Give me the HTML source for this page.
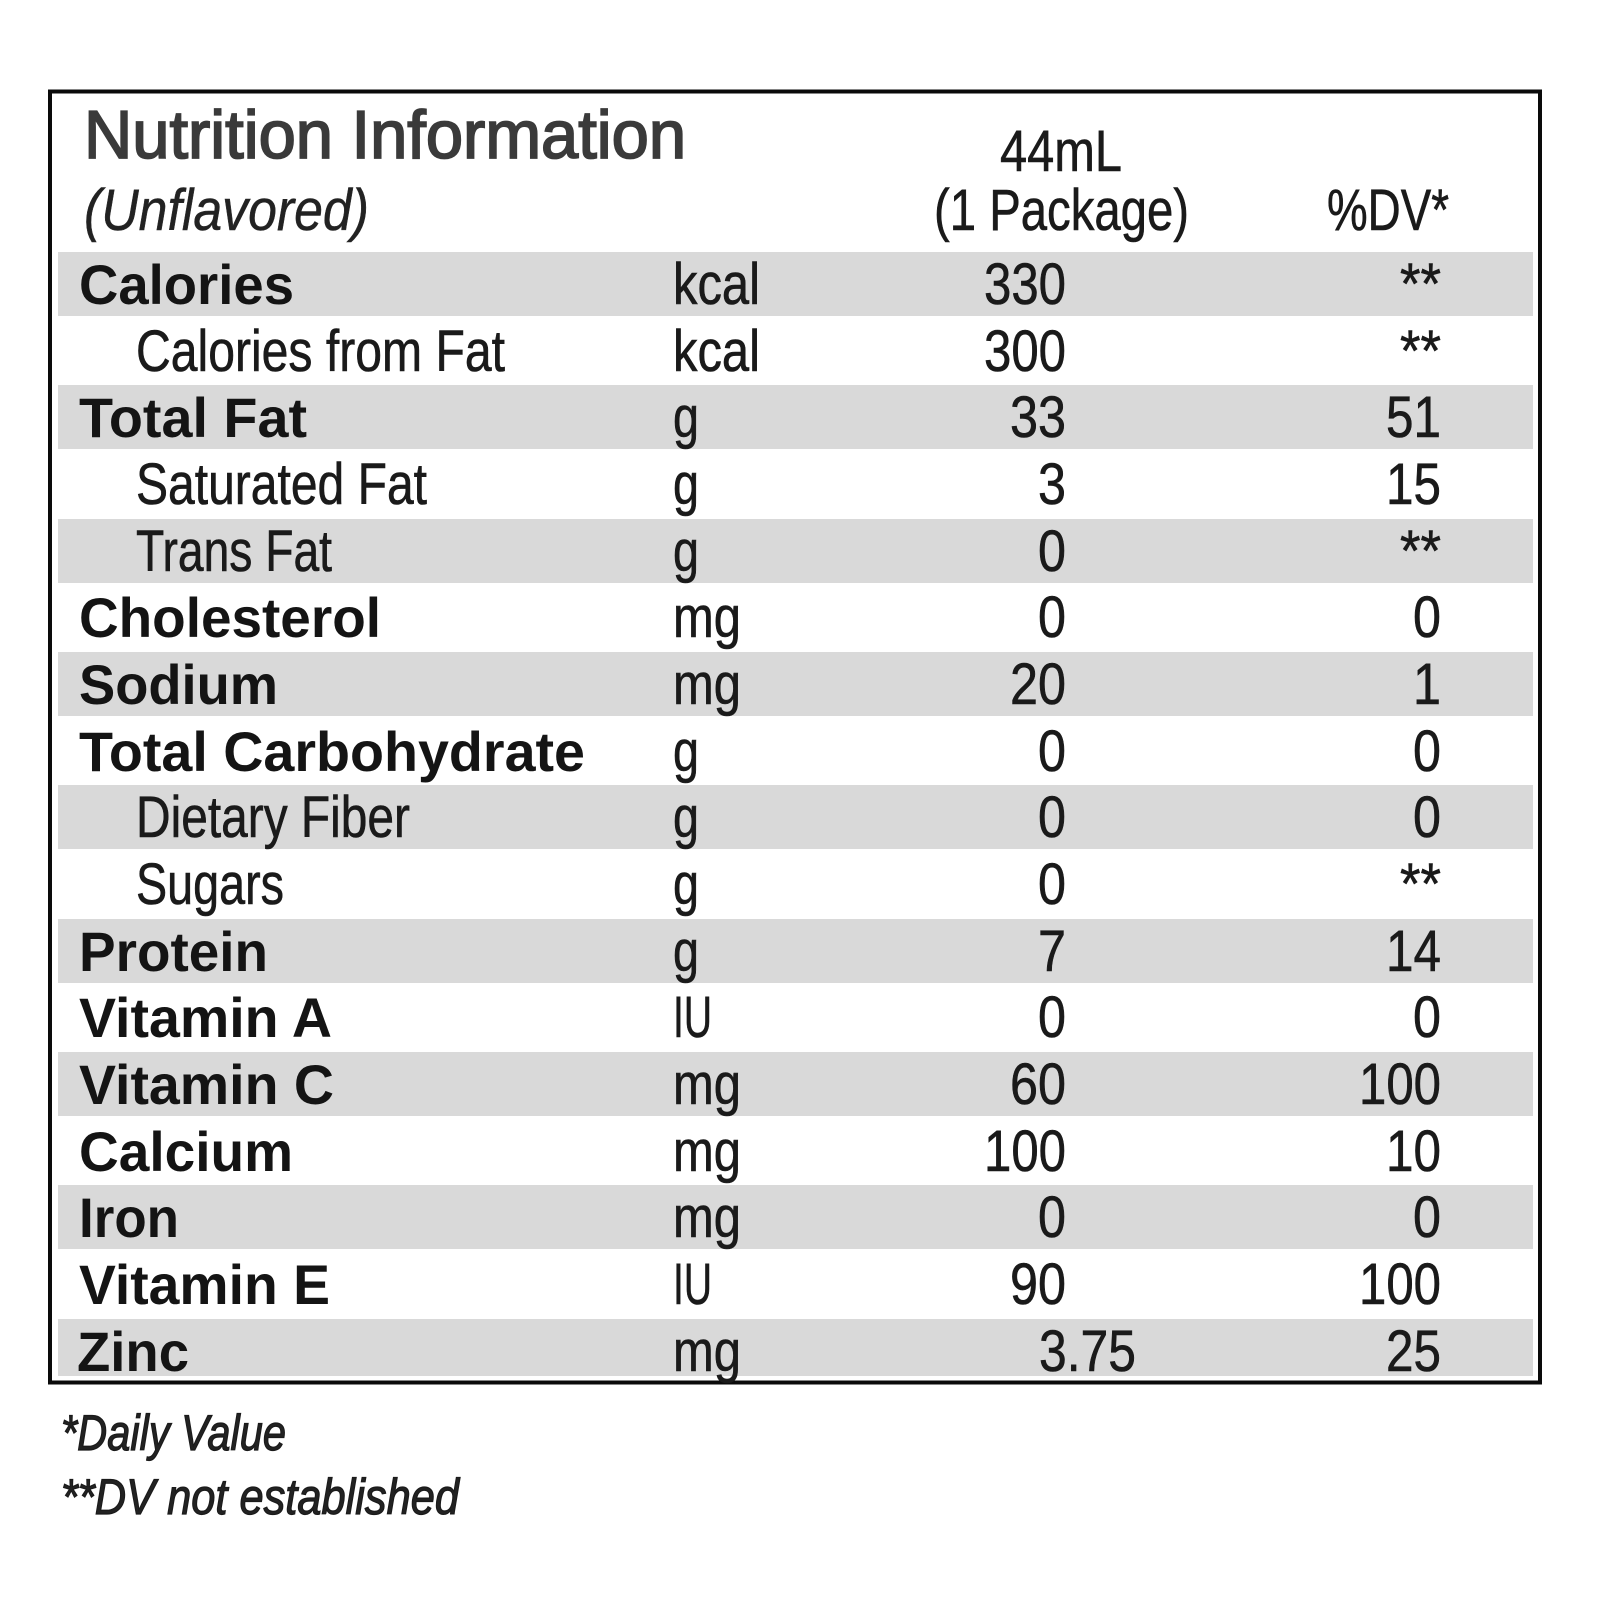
<!DOCTYPE html>
<html>
<head>
<meta charset="utf-8">
<style>
  html,body{margin:0;padding:0;background:#fff;}
  svg{display:block;}
  .t{font-family:"Liberation Sans",sans-serif;}
  .b{font-family:"Liberation Sans",sans-serif;font-weight:bold;font-size:56px;fill:#141414;}
  .r{font-family:"Liberation Sans",sans-serif;font-size:58px;fill:#1a1a1a;stroke:#1a1a1a;stroke-width:0.6;}
  .i{font-family:"Liberation Sans",sans-serif;font-style:italic;fill:#222;}
</style>
</head>
<body>
<svg width="1600" height="1600" viewBox="0 0 1600 1600" xmlns="http://www.w3.org/2000/svg">
  <rect x="0" y="0" width="1600" height="1600" fill="#ffffff"/>

  <!-- gray bands -->
  <g fill="#d9d9d9">
    <rect x="58" y="252" width="1475" height="64"/>
    <rect x="58" y="385" width="1475" height="64"/>
    <rect x="58" y="519" width="1475" height="64"/>
    <rect x="58" y="652" width="1475" height="64"/>
    <rect x="58" y="785" width="1475" height="64"/>
    <rect x="58" y="919" width="1475" height="64"/>
    <rect x="58" y="1052" width="1475" height="64"/>
    <rect x="58" y="1185" width="1475" height="64"/>
    <rect x="58" y="1319" width="1475" height="57"/>
  </g>

  <!-- border -->
  <rect x="50" y="91.5" width="1490" height="1291" fill="none" stroke="#0a0a0a" stroke-width="4"/>

  <!-- header -->
  <text class="t" x="84" y="158" font-size="68" fill="#3a3a3a" stroke="#3a3a3a" stroke-width="1.8" textLength="602" lengthAdjust="spacingAndGlyphs">Nutrition Information</text>
  <text class="i" x="84" y="230" font-size="58" fill="#2a2a2a" stroke="#2a2a2a" stroke-width="0.5" textLength="285" lengthAdjust="spacingAndGlyphs">(Unflavored)</text>
  <text class="r" x="1000" y="171" font-size="56" textLength="122" lengthAdjust="spacingAndGlyphs">44mL</text>
  <text class="r" x="934" y="230" font-size="56" textLength="255" lengthAdjust="spacingAndGlyphs">(1 Package)</text>
  <text class="r" x="1327" y="230" font-size="56" textLength="122" lengthAdjust="spacingAndGlyphs">%DV*</text>

  <!-- labels -->
  <text class="b" x="79" y="304" textLength="215" lengthAdjust="spacingAndGlyphs">Calories</text>
  <text class="r" x="136" y="371" textLength="369" lengthAdjust="spacingAndGlyphs">Calories from Fat</text>
  <text class="b" x="79" y="437" textLength="228" lengthAdjust="spacingAndGlyphs">Total Fat</text>
  <text class="r" x="136" y="504" textLength="291" lengthAdjust="spacingAndGlyphs">Saturated Fat</text>
  <text class="r" x="136" y="571" textLength="196" lengthAdjust="spacingAndGlyphs">Trans Fat</text>
  <text class="b" x="79" y="637" textLength="302" lengthAdjust="spacingAndGlyphs">Cholesterol</text>
  <text class="b" x="79" y="704" textLength="199" lengthAdjust="spacingAndGlyphs">Sodium</text>
  <text class="b" x="79" y="771" textLength="506" lengthAdjust="spacingAndGlyphs">Total Carbohydrate</text>
  <text class="r" x="136" y="837" textLength="274" lengthAdjust="spacingAndGlyphs">Dietary Fiber</text>
  <text class="r" x="136" y="904" textLength="148" lengthAdjust="spacingAndGlyphs">Sugars</text>
  <text class="b" x="79" y="971" textLength="189" lengthAdjust="spacingAndGlyphs">Protein</text>
  <text class="b" x="79" y="1037" textLength="253" lengthAdjust="spacingAndGlyphs">Vitamin A</text>
  <text class="b" x="79" y="1104" textLength="255" lengthAdjust="spacingAndGlyphs">Vitamin C</text>
  <text class="b" x="79" y="1171" textLength="214" lengthAdjust="spacingAndGlyphs">Calcium</text>
  <text class="b" x="79" y="1237" textLength="100" lengthAdjust="spacingAndGlyphs">Iron</text>
  <text class="b" x="79" y="1304" textLength="251" lengthAdjust="spacingAndGlyphs">Vitamin E</text>
  <text class="b" x="77" y="1371" textLength="112" lengthAdjust="spacingAndGlyphs">Zinc</text>

  <!-- units -->
  <text class="r" x="673" y="304" textLength="87" lengthAdjust="spacingAndGlyphs">kcal</text>
  <text class="r" x="673" y="371" textLength="87" lengthAdjust="spacingAndGlyphs">kcal</text>
  <text class="r" x="673" y="437" textLength="26" lengthAdjust="spacingAndGlyphs">g</text>
  <text class="r" x="673" y="504" textLength="26" lengthAdjust="spacingAndGlyphs">g</text>
  <text class="r" x="673" y="571" textLength="26" lengthAdjust="spacingAndGlyphs">g</text>
  <text class="r" x="673" y="637" textLength="68" lengthAdjust="spacingAndGlyphs">mg</text>
  <text class="r" x="673" y="704" textLength="68" lengthAdjust="spacingAndGlyphs">mg</text>
  <text class="r" x="673" y="771" textLength="26" lengthAdjust="spacingAndGlyphs">g</text>
  <text class="r" x="673" y="837" textLength="26" lengthAdjust="spacingAndGlyphs">g</text>
  <text class="r" x="673" y="904" textLength="26" lengthAdjust="spacingAndGlyphs">g</text>
  <text class="r" x="673" y="971" textLength="26" lengthAdjust="spacingAndGlyphs">g</text>
  <text class="r" x="673" y="1037" textLength="39" lengthAdjust="spacingAndGlyphs">IU</text>
  <text class="r" x="673" y="1104" textLength="68" lengthAdjust="spacingAndGlyphs">mg</text>
  <text class="r" x="673" y="1171" textLength="68" lengthAdjust="spacingAndGlyphs">mg</text>
  <text class="r" x="673" y="1237" textLength="68" lengthAdjust="spacingAndGlyphs">mg</text>
  <text class="r" x="673" y="1304" textLength="39" lengthAdjust="spacingAndGlyphs">IU</text>
  <text class="r" x="673" y="1371" textLength="68" lengthAdjust="spacingAndGlyphs">mg</text>

  <!-- amounts -->
  <text class="r" x="984" y="304" textLength="82" lengthAdjust="spacingAndGlyphs">330</text>
  <text class="r" x="984" y="371" textLength="82" lengthAdjust="spacingAndGlyphs">300</text>
  <text class="r" x="1010" y="437" textLength="56" lengthAdjust="spacingAndGlyphs">33</text>
  <text class="r" x="1038" y="504" textLength="28" lengthAdjust="spacingAndGlyphs">3</text>
  <text class="r" x="1038" y="571" textLength="28" lengthAdjust="spacingAndGlyphs">0</text>
  <text class="r" x="1038" y="637" textLength="28" lengthAdjust="spacingAndGlyphs">0</text>
  <text class="r" x="1010" y="704" textLength="56" lengthAdjust="spacingAndGlyphs">20</text>
  <text class="r" x="1038" y="771" textLength="28" lengthAdjust="spacingAndGlyphs">0</text>
  <text class="r" x="1038" y="837" textLength="28" lengthAdjust="spacingAndGlyphs">0</text>
  <text class="r" x="1038" y="904" textLength="28" lengthAdjust="spacingAndGlyphs">0</text>
  <text class="r" x="1038" y="971" textLength="28" lengthAdjust="spacingAndGlyphs">7</text>
  <text class="r" x="1038" y="1037" textLength="28" lengthAdjust="spacingAndGlyphs">0</text>
  <text class="r" x="1010" y="1104" textLength="56" lengthAdjust="spacingAndGlyphs">60</text>
  <text class="r" x="984" y="1171" textLength="82" lengthAdjust="spacingAndGlyphs">100</text>
  <text class="r" x="1038" y="1237" textLength="28" lengthAdjust="spacingAndGlyphs">0</text>
  <text class="r" x="1010" y="1304" textLength="56" lengthAdjust="spacingAndGlyphs">90</text>
  <text class="r" x="1039" y="1371" textLength="97" lengthAdjust="spacingAndGlyphs">3.75</text>

  <!-- %DV -->
  <text class="r" x="1400" y="304" textLength="41" lengthAdjust="spacingAndGlyphs">**</text>
  <text class="r" x="1400" y="371" textLength="41" lengthAdjust="spacingAndGlyphs">**</text>
  <text class="r" x="1386" y="437" textLength="55" lengthAdjust="spacingAndGlyphs">51</text>
  <text class="r" x="1386" y="504" textLength="55" lengthAdjust="spacingAndGlyphs">15</text>
  <text class="r" x="1400" y="571" textLength="41" lengthAdjust="spacingAndGlyphs">**</text>
  <text class="r" x="1413" y="637" textLength="28" lengthAdjust="spacingAndGlyphs">0</text>
  <text class="r" x="1413" y="704" textLength="28" lengthAdjust="spacingAndGlyphs">1</text>
  <text class="r" x="1413" y="771" textLength="28" lengthAdjust="spacingAndGlyphs">0</text>
  <text class="r" x="1413" y="837" textLength="28" lengthAdjust="spacingAndGlyphs">0</text>
  <text class="r" x="1400" y="904" textLength="41" lengthAdjust="spacingAndGlyphs">**</text>
  <text class="r" x="1386" y="971" textLength="55" lengthAdjust="spacingAndGlyphs">14</text>
  <text class="r" x="1413" y="1037" textLength="28" lengthAdjust="spacingAndGlyphs">0</text>
  <text class="r" x="1359" y="1104" textLength="82" lengthAdjust="spacingAndGlyphs">100</text>
  <text class="r" x="1386" y="1171" textLength="55" lengthAdjust="spacingAndGlyphs">10</text>
  <text class="r" x="1413" y="1237" textLength="28" lengthAdjust="spacingAndGlyphs">0</text>
  <text class="r" x="1359" y="1304" textLength="82" lengthAdjust="spacingAndGlyphs">100</text>
  <text class="r" x="1386" y="1371" textLength="55" lengthAdjust="spacingAndGlyphs">25</text>

  <!-- footer -->
  <text class="i" x="61" y="1450" font-size="50" fill="#1a1a1a" stroke="#1a1a1a" stroke-width="1.2" textLength="225" lengthAdjust="spacingAndGlyphs">*Daily Value</text>
  <text class="i" x="61" y="1514" font-size="50" fill="#1a1a1a" stroke="#1a1a1a" stroke-width="1.2" textLength="398" lengthAdjust="spacingAndGlyphs">**DV not established</text>
</svg>
</body>
</html>
